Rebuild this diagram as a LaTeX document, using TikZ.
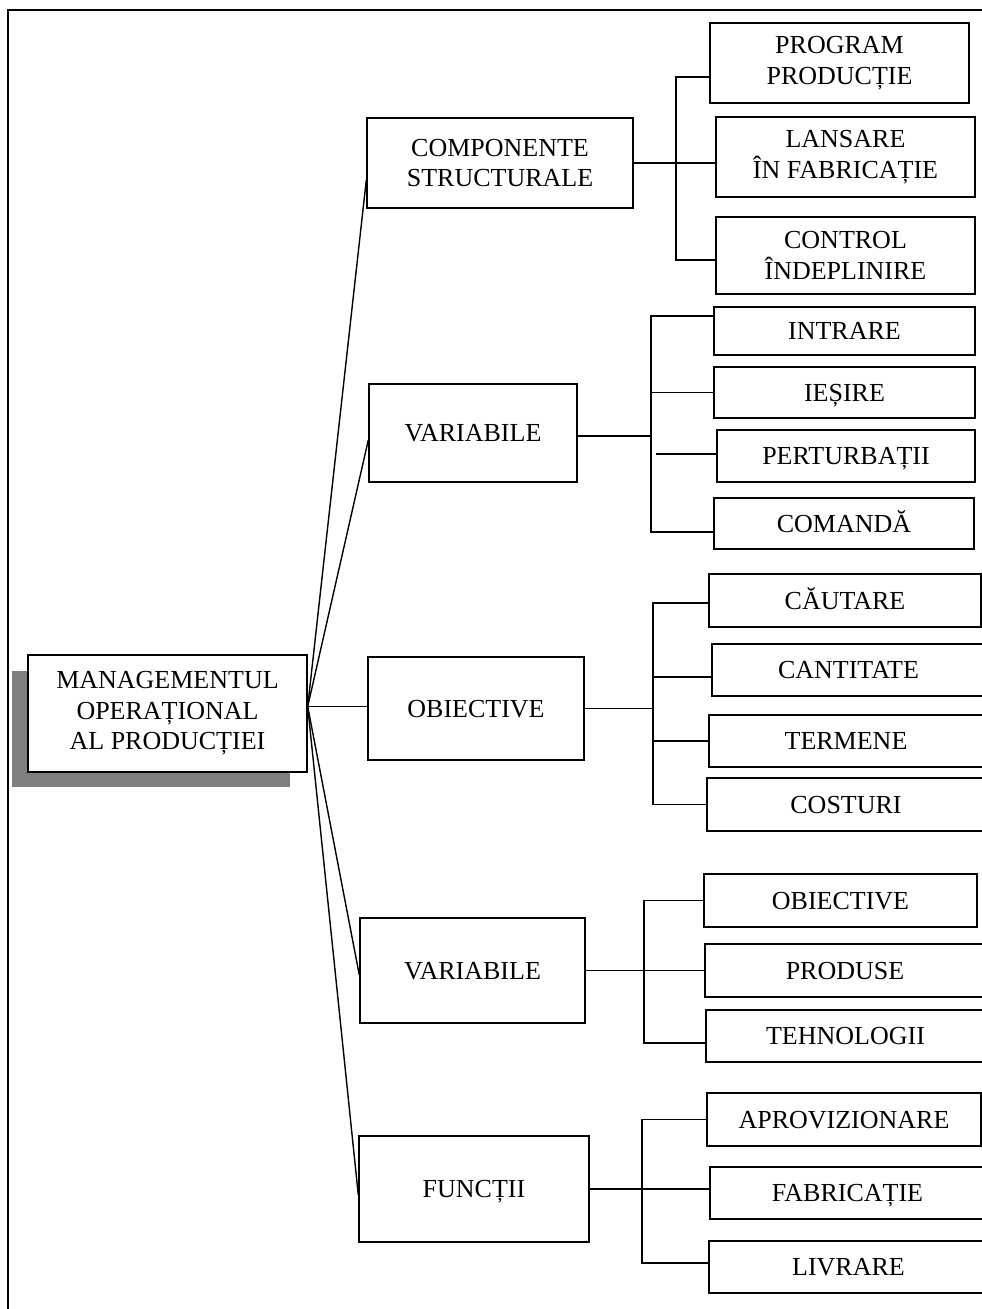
\documentclass[tikz,border=0pt]{standalone}
\usepackage{fontspec}
\setmainfont{Liberation Serif}
\definecolor{shadowgray}{RGB}{128,128,128}
\tikzset{
  box/.style={draw, line width=1.4pt, inner sep=0pt, fill=white,
    font=\fontsize{26}{30.5}\selectfont},
  one/.style={text height=17.2pt, text depth=0pt},
  two/.style={align=center},
  conn/.style={line width=1.4pt},
}
\newcommand\mybox[7][one]{\node[box,#1,minimum width={#5-#3},minimum height={#6-#4}] (#2) at ({(#3+#5)/2},{(#4+#6)/2}) {#7};}
\begin{document}
\begin{tikzpicture}[x=1pt,y=-1pt]
\useasboundingbox (0,0) rectangle (982,1309);
\clip (0,0) rectangle (982,1309);
% frame
\coordinate (fbl) at (8,1315);
\coordinate (ftl) at (8,10);
\coordinate (ftr) at (990,10);
\draw[line width=1.6pt] (fbl) -- (ftl) -- (ftr);
% main node with shadow
\fill[shadowgray] (12,671) rectangle (290,787);
\mybox[two]{main}{28}{655}{307}{772}{MANAGEMENTUL\\OPERAȚIONAL\\AL PRODUCȚIEI}
% level 2
\mybox[two]{comp}{367}{118}{633}{208}{COMPONENTE\\STRUCTURALE}
\mybox{var1}{369}{384}{577}{482}{VARIABILE}
\mybox{obj}{368}{657}{584}{760}{OBIECTIVE}
\mybox{var2}{360}{918}{585}{1023}{VARIABILE}
\mybox{func}{359}{1136}{589}{1242}{FUNCȚII}
% level 3
\mybox[two]{prog}{710}{23}{969}{103}{PROGRAM\\PRODUCȚIE}
\mybox[two]{lans}{716}{117}{975}{197}{LANSARE\\ÎN FABRICAȚIE}
\mybox[two]{ctrl}{716}{217}{975}{294}{CONTROL\\ÎNDEPLINIRE}
\mybox{intr}{714}{307}{975}{355}{INTRARE}
\mybox{iesi}{714}{367}{975}{418}{IEȘIRE}
\mybox{pert}{717}{430}{975}{482}{PERTURBAȚII}
\mybox{coma}{714}{498}{974}{549}{COMANDĂ}
\mybox{caut}{709}{574}{981}{627}{CĂUTARE}
\mybox{cant}{712}{644}{985}{696}{CANTITATE}
\mybox{term}{709}{715}{983}{767}{TERMENE}
\mybox{cost}{707}{778}{985}{831}{COSTURI}
\mybox{obj2}{704}{874}{977}{927}{OBIECTIVE}
\mybox{prod}{705}{944}{985}{997}{PRODUSE}
\mybox{tehn}{706}{1010}{985}{1062}{TEHNOLOGII}
\mybox{apro}{707}{1093}{981}{1146}{APROVIZIONARE}
\mybox{fabr}{710}{1167}{985}{1219}{FABRICAȚIE}
\mybox{livr}{709}{1241}{988}{1293}{LIVRARE}
% fan from main node
\coordinate (hub) at ([yshift=7pt]main.east);
\coordinate (tcomp) at ([yshift=-17pt]comp.west);
\coordinate (tvar1) at ([yshift=-7pt]var1.west);
\coordinate (tvar2) at ([yshift=-4.5pt]var2.west);
\coordinate (tfunc) at ([yshift=-6pt]func.west);
\draw[conn] (hub) -- (tcomp);
\draw[conn] (hub) -- (tvar1);
\draw[conn] (hub) -- (obj.west |- hub);
\draw[conn] (hub) -- (tvar2);
\draw[conn] (hub) -- (tfunc);
% group 1
\coordinate (b1) at (676,0);
\coordinate (pprog) at ([yshift=-14pt]prog.west);
\coordinate (pctrl) at ([yshift=-4.5pt]ctrl.west);
\draw[conn] (comp.east) -- (comp.east -| lans.west);
\draw[conn] (pprog) -- (pprog -| b1) -- (pctrl -| b1) -- (pctrl);
% group 2
\coordinate (b2) at (651,0);
\coordinate (b2p) at (656,0);
\coordinate (pvar1) at ([yshift=-3pt]var1.east);
\coordinate (pintr) at ([yshift=15pt]intr.west);
\coordinate (pcoma) at ([yshift=-8.5pt]coma.west);
\coordinate (ppert) at ([yshift=2pt]pert.west);
\draw[conn] (pvar1) -- (pvar1 -| b2);
\draw[conn] (pintr) -- (pintr -| b2) -- (pcoma -| b2) -- (pcoma);
\draw[conn] (iesi.west) -- (iesi.west -| b2);
\draw[conn] (ppert -| b2p) -- (ppert);
% group 3
\coordinate (b3) at (653,0);
\coordinate (pcaut) at ([yshift=-2.5pt]caut.west);
\coordinate (pcant) at ([yshift=-7pt]cant.west);
\draw[conn] (obj.east) -- (obj.east -| b3);
\draw[conn] (pcaut) -- (pcaut -| b3) -- (cost.west -| b3) -- (cost.west);
\draw[conn] (pcant) -- (pcant -| b3);
\draw[conn] (term.west) -- (term.west -| b3);
% group 4
\coordinate (b4) at (644,0);
\coordinate (ptehn) at ([yshift=-7pt]tehn.west);
\draw[conn] (var2.east) -- (var2.east -| prod.west);
\draw[conn] (obj2.west) -- (obj2.west -| b4) -- (ptehn -| b4) -- (ptehn);
% group 5
\coordinate (b5) at (642,0);
\coordinate (plivr) at ([yshift=4pt]livr.west);
\draw[conn] (func.east) -- (func.east -| fabr.west);
\draw[conn] (apro.west) -- (apro.west -| b5) -- (plivr -| b5) -- (plivr);
\end{tikzpicture}
\end{document}
